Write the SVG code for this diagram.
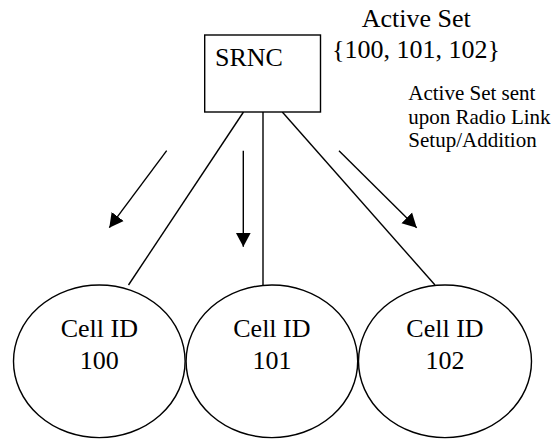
<svg xmlns="http://www.w3.org/2000/svg" width="552" height="439" viewBox="0 0 552 439">
  <style>
    .shape { fill: #ffffff; stroke: #000000; stroke-width: 1.4; }
    .line { fill: none; stroke: #000000; stroke-width: 1.4; }
    .arrow { fill: none; stroke: #000000; stroke-width: 1.4; marker-end: url(#head); }
    .big { font-family: "Liberation Serif", "Times New Roman", serif; font-size: 26px; fill: #000000; }
    .small { font-family: "Liberation Serif", "Times New Roman", serif; font-size: 21px; fill: #000000; }
    .mid { text-anchor: middle; }
  </style>
  <defs>
    <marker id="head" markerUnits="userSpaceOnUse" markerWidth="15" markerHeight="16" refX="14" refY="8" orient="auto">
      <path d="M0,0.5 L14,8 L0,15.5 Z" fill="#000000"/>
    </marker>
  </defs>
  <rect width="552" height="439" fill="#ffffff"/>

  <g id="connectors">
    <line class="line" x1="243.5" y1="112" x2="128.5" y2="285"/>
    <line class="line" x1="263" y1="112" x2="263" y2="285"/>
    <line class="line" x1="282.3" y1="112" x2="435" y2="285"/>
    <line class="arrow" x1="166.7" y1="150.7" x2="109.3" y2="227.7"/>
    <line class="arrow" x1="243.3" y1="150.7" x2="243.3" y2="246.7"/>
    <line class="arrow" x1="339" y1="150.7" x2="416.7" y2="227.7"/>
  </g>

  <g id="srnc">
    <rect class="shape" x="204.7" y="35" width="115.8" height="77"/>
    <text class="big" x="215" y="65.7">SRNC</text>
  </g>

  <g id="active-set">
    <text class="big" x="361.7" y="26.7">Active Set</text>
    <text class="big" x="332" y="57.6">{100, 101, 102}</text>
  </g>

  <g id="note">
    <text class="small" x="408.3" y="100">Active Set sent</text>
    <text class="small" x="408.3" y="123.6">upon Radio Link</text>
    <text class="small" x="408.3" y="147.3">Setup/Addition</text>
  </g>

  <g id="cell-100">
    <ellipse class="shape" cx="99.3" cy="361.3" rx="85.8" ry="76.3"/>
    <text class="big mid" x="99.3" y="336.7">Cell ID</text>
    <text class="big mid" x="99.3" y="369">100</text>
  </g>

  <g id="cell-101">
    <ellipse class="shape" cx="271.9" cy="361.3" rx="85.8" ry="76.3"/>
    <text class="big mid" x="271.9" y="336.7">Cell ID</text>
    <text class="big mid" x="271.9" y="369">101</text>
  </g>

  <g id="cell-102">
    <ellipse class="shape" cx="445" cy="361.3" rx="86.5" ry="76.3"/>
    <text class="big mid" x="445" y="336.7">Cell ID</text>
    <text class="big mid" x="445" y="369">102</text>
  </g>
</svg>
